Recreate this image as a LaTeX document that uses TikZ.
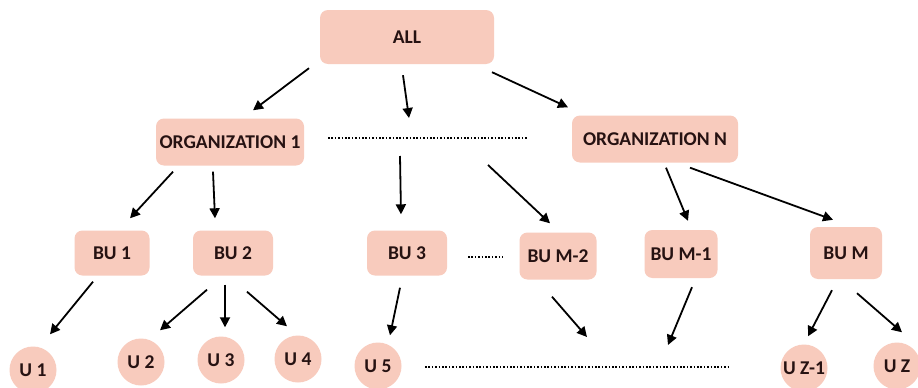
\documentclass[tikz,border=0pt]{standalone}
\usepackage{fontspec}
\setmainfont{Carlito}
\usetikzlibrary{arrows.meta}
\definecolor{boxfill}{RGB}{248,203,189}
\definecolor{txt}{RGB}{38,18,18}
\tikzset{
  box/.style={rectangle, rounded corners=8pt, fill=boxfill, draw=none, text=txt,
    font=\fontsize{19.5}{21}\selectfont\bfseries, inner sep=0pt},
  unit/.style={circle, fill=boxfill, draw=none, text=txt, minimum size=47pt,
    font=\fontsize{19.5}{21}\selectfont\bfseries, inner sep=0pt},
  arr/.style={line width=1.8pt, -{Triangle[length=10pt,width=10pt]}},
  dots/.style={line width=2.2pt, dash pattern=on 1.6pt off 1.8pt}
}
\begin{document}
\begin{tikzpicture}[x=1pt,y=-1pt]
\clip (0,0) rectangle (918,388);
\fill[white] (0,0) rectangle (918,388);
% level 0
\node[box, minimum width=174pt, minimum height=54pt] (all) at (407,37) {ALL};
% level 1
\node[box, minimum width=148pt, minimum height=47pt] (org1) at (230,142) {ORGANIZATION 1};
\node[box, minimum width=166pt, minimum height=47pt] (orgn) at (655,139) {ORGANIZATION N};
% level 2
\node[box, minimum width=75pt, minimum height=45pt] (bu1) at (112,253) {BU 1};
\node[box, minimum width=80pt, minimum height=45pt] (bu2) at (233,253) {BU 2};
\node[box, minimum width=80pt, minimum height=45pt] (bu3) at (407,253) {BU 3};
\node[box, minimum width=77pt, minimum height=47pt] (bum2) at (558,256) {BU M-2};
\node[box, minimum width=73pt, minimum height=48pt] (bum1) at (681,254) {BU M-1};
\node[box, minimum width=72pt, minimum height=52pt] (bum) at (846,253) {BU M};
% level 3
\node[unit] (u1) at (33,370) {U 1};
\node[unit] (u2) at (141,362) {U 2};
\node[unit] (u3) at (221,360) {U 3};
\node[unit] (u4) at (298,359) {U 4};
\node[unit] (u5) at (378,366) {U 5};
\node[unit] (uz1) at (804,368) {U Z-1};
\node[unit] (uz) at (897,366) {U Z};
% dotted placeholders
\coordinate (dA) at (328,138);
\coordinate (dB) at (527,138);
\coordinate (eA) at (468,257);
\coordinate (eB) at (503,257);
\coordinate (fA) at (425,367);
\coordinate (fB) at (728,367);
\draw[dots] (dA) -- (dB);
\draw[dots] (eA) -- (eB);
\draw[dots] (fA) -- (fB);
% free ends
\coordinate (c1) at (409,118);
\coordinate (c2) at (400,156);
\coordinate (c3) at (488,165);
\coordinate (c4) at (587,337);
\coordinate (c5) at (668,345);
% arrows
\draw[arr] ([xshift=-98pt,yshift=-4pt]all.south) -- ([xshift=23pt,yshift=8pt]org1.north);
\draw[arr] ([xshift=-4pt,yshift=-11pt]all.south) -- (c1);
\draw[arr] ([xshift=85pt,yshift=-8pt]all.south) -- ([xshift=-87pt,yshift=8pt]orgn.north);
\draw[arr] ([xshift=-57pt,yshift=-6pt]org1.south) -- ([xshift=18pt,yshift=12pt]bu1.north);
\draw[arr] ([xshift=-17pt,yshift=-6pt]org1.south) -- ([xshift=-18pt,yshift=12pt]bu2.north);
\draw[arr] (c2) -- ([xshift=-6pt,yshift=16pt]bu3.north);
\draw[arr] (c3) -- ([xshift=-8pt,yshift=9pt]bum2.north);
\draw[arr] ([xshift=11pt,yshift=-5pt]orgn.south) -- ([xshift=7pt,yshift=9pt]bum1.north);
\draw[arr] ([xshift=35pt,yshift=-5pt]orgn.south) -- ([xshift=-13pt,yshift=7pt]bum.north);
\draw[arr] ([xshift=-19pt,yshift=-6pt]bu1.south) -- ([xshift=17pt,yshift=12pt]u1.north);
\draw[arr] ([xshift=-26pt,yshift=-14pt]bu2.south) -- ([xshift=19pt,yshift=8pt]u2.north);
\draw[arr] ([xshift=-8pt,yshift=-9pt]bu2.south) -- ([xshift=4pt,yshift=9pt]u3.north);
\draw[arr] ([xshift=14pt,yshift=-16pt]bu2.south) -- ([xshift=-11pt,yshift=9pt]u4.north);
\draw[arr] ([xshift=-7pt,yshift=-12pt]bu3.south) -- ([xshift=12pt,yshift=7pt]u5.north);
\draw[arr] ([xshift=-6pt,yshift=-17pt]bum2.south) -- (c4);
\draw[arr] ([xshift=11pt,yshift=-9pt]bum1.south) -- (c5);
\draw[arr] ([xshift=-14pt,yshift=-11pt]bum.south) -- ([xshift=4pt,yshift=8pt]uz1.north);
\draw[arr] ([xshift=11pt,yshift=-14pt]bum.south) -- ([xshift=5pt,yshift=10pt]uz.north);
\end{tikzpicture}
\end{document}
